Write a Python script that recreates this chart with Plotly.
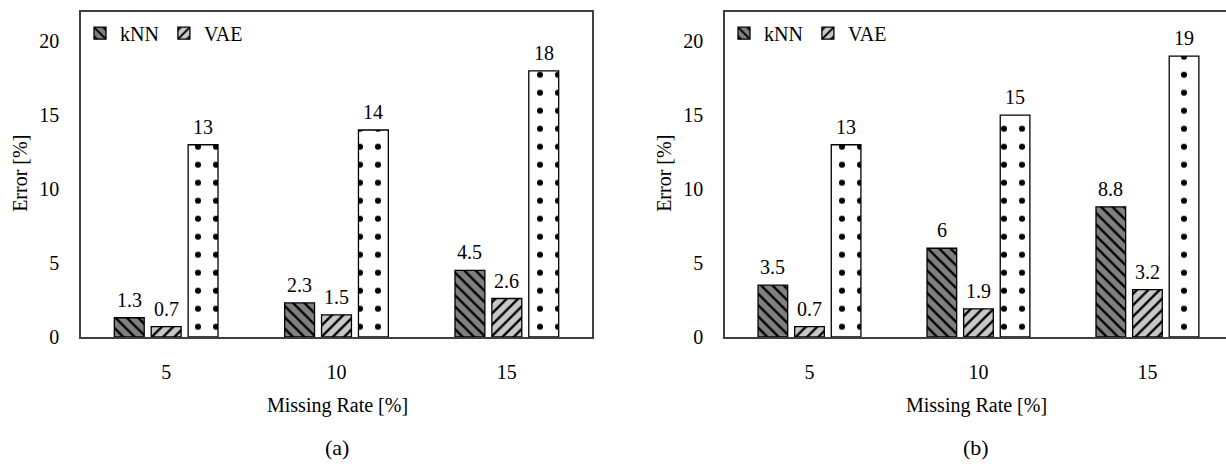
import plotly.graph_objects as go

# Missing rates on the x axis
rates = ["5", "10", "15"]

# Panel (a) errors [%]
a_knn = [1.3, 2.3, 4.5]
a_vae = [0.7, 1.5, 2.6]
a_third = [13, 14, 18]

# Panel (b) errors [%]
b_knn = [3.5, 6, 8.8]
b_vae = [0.7, 1.9, 3.2]
b_third = [13, 15, 19]

y_ticks = [0, 5, 10, 15, 20]

FONT = "Liberation Serif, Times New Roman, serif"
AXIS_COLOR = "#404040"
BARGAP = 0.35
BARGROUPGAP = 0.19

W, H = 1226, 472

styles = [
    dict(fill="#808080", shape="\\", size=8, solidity=0.3),
    dict(fill="#c8c8c8", shape="/", size=8, solidity=0.3),
    dict(fill="#ffffff", shape=".", size=18, solidity=0.09),
]

fig = go.Figure()

panels = [
    ("x", "y", "legend", [a_knn, a_vae, a_third]),
    ("x2", "y2", "legend2", [b_knn, b_vae, b_third]),
]
names = ["kNN", "VAE", None]

for xa, ya, lg, series in panels:
    for i, vals in enumerate(series):
        st = styles[i]
        fig.add_trace(go.Bar(
            x=rates, y=vals, xaxis=xa, yaxis=ya,
            name=names[i] if names[i] else "",
            showlegend=names[i] is not None,
            legend=lg,
            marker=dict(
                color=st["fill"],
                line=dict(color="#000000", width=1.3),
                pattern=dict(shape=st["shape"], fgcolor="#000000", fgopacity=1,
                             bgcolor=st["fill"], size=st["size"],
                             solidity=st["solidity"], fillmode="replace"),
            ),
        ))

# value labels above the bars
slot = (1 - BARGAP) / 3
annotations = []
for xa, ya, lg, series in panels:
    for i, vals in enumerate(series):
        for j, v in enumerate(vals):
            annotations.append(dict(
                x=j + (i - 1) * slot, y=v, xref=xa, yref=ya,
                text=f"{v:g}", showarrow=False, yanchor="bottom",
                yshift=5, font=dict(family=FONT, size=20, color="#000000"),
            ))

# axis titles and panel captions
def px_x(p):
    return p / W

def px_y(p):
    return 1 - p / H

for cx, ex, cap in [(337, 20, "(a)"), (976, 664, "(b)")]:
    annotations.append(dict(x=px_x(cx), y=px_y(415), xref="paper", yref="paper",
                            xanchor="center", yanchor="middle",
                            text="Missing Rate [%]", showarrow=False,
                            font=dict(family=FONT, size=20, color="#000000")))
    annotations.append(dict(x=px_x(cx), y=px_y(458), xref="paper", yref="paper",
                            xanchor="center", yanchor="middle",
                            text=cap, showarrow=False,
                            font=dict(family=FONT, size=22, color="#000000")))
    annotations.append(dict(x=px_x(ex), y=px_y(178), xref="paper", yref="paper",
                            xanchor="center", yanchor="middle",
                            text="Error [%]", showarrow=False, textangle=-90,
                            font=dict(family=FONT, size=20, color="#000000")))

y_dom = [px_y(345), px_y(12)]

common_x = dict(type="category", showline=True, linecolor=AXIS_COLOR, linewidth=1.5,
                mirror=True, ticks="", showgrid=False, zeroline=False,
                tickfont=dict(family=FONT, size=20, color="#000000"),
                ticklabelstandoff=16)
common_y = dict(range=[0, 22], tickvals=y_ticks, showline=True, linecolor=AXIS_COLOR,
                linewidth=1.5, ticks="", showgrid=False, zeroline=False,
                tickfont=dict(family=FONT, size=20, color="#000000"),
                ticklabelstandoff=16, domain=y_dom)

legend_common = dict(orientation="h", font=dict(family=FONT, size=20, color="#000000"),
                     bgcolor="rgba(0,0,0,0)", itemwidth=30, xanchor="left",
                     yanchor="top", tracegroupgap=0, itemclick=False)

fig.update_layout(
    width=W, height=H,
    margin=dict(l=0, r=0, t=0, b=0),
    paper_bgcolor="#ffffff", plot_bgcolor="#ffffff",
    barmode="group", bargap=BARGAP, bargroupgap=BARGROUPGAP,
    xaxis=dict(common_x, domain=[px_x(81), px_x(592)], range=[-0.5, 2.5], anchor="y"),
    yaxis=dict(common_y, mirror=True, anchor="x"),
    xaxis2=dict(common_x, domain=[px_x(725), 1.0], range=[-0.5, 2.465], anchor="y2"),
    yaxis2=dict(common_y, mirror=False, anchor="x2"),
    legend=dict(legend_common, x=px_x(80), y=px_y(14)),
    legend2=dict(legend_common, x=px_x(724), y=px_y(14)),
    annotations=annotations,
    showlegend=True,
)

fig.write_html("out.html")
